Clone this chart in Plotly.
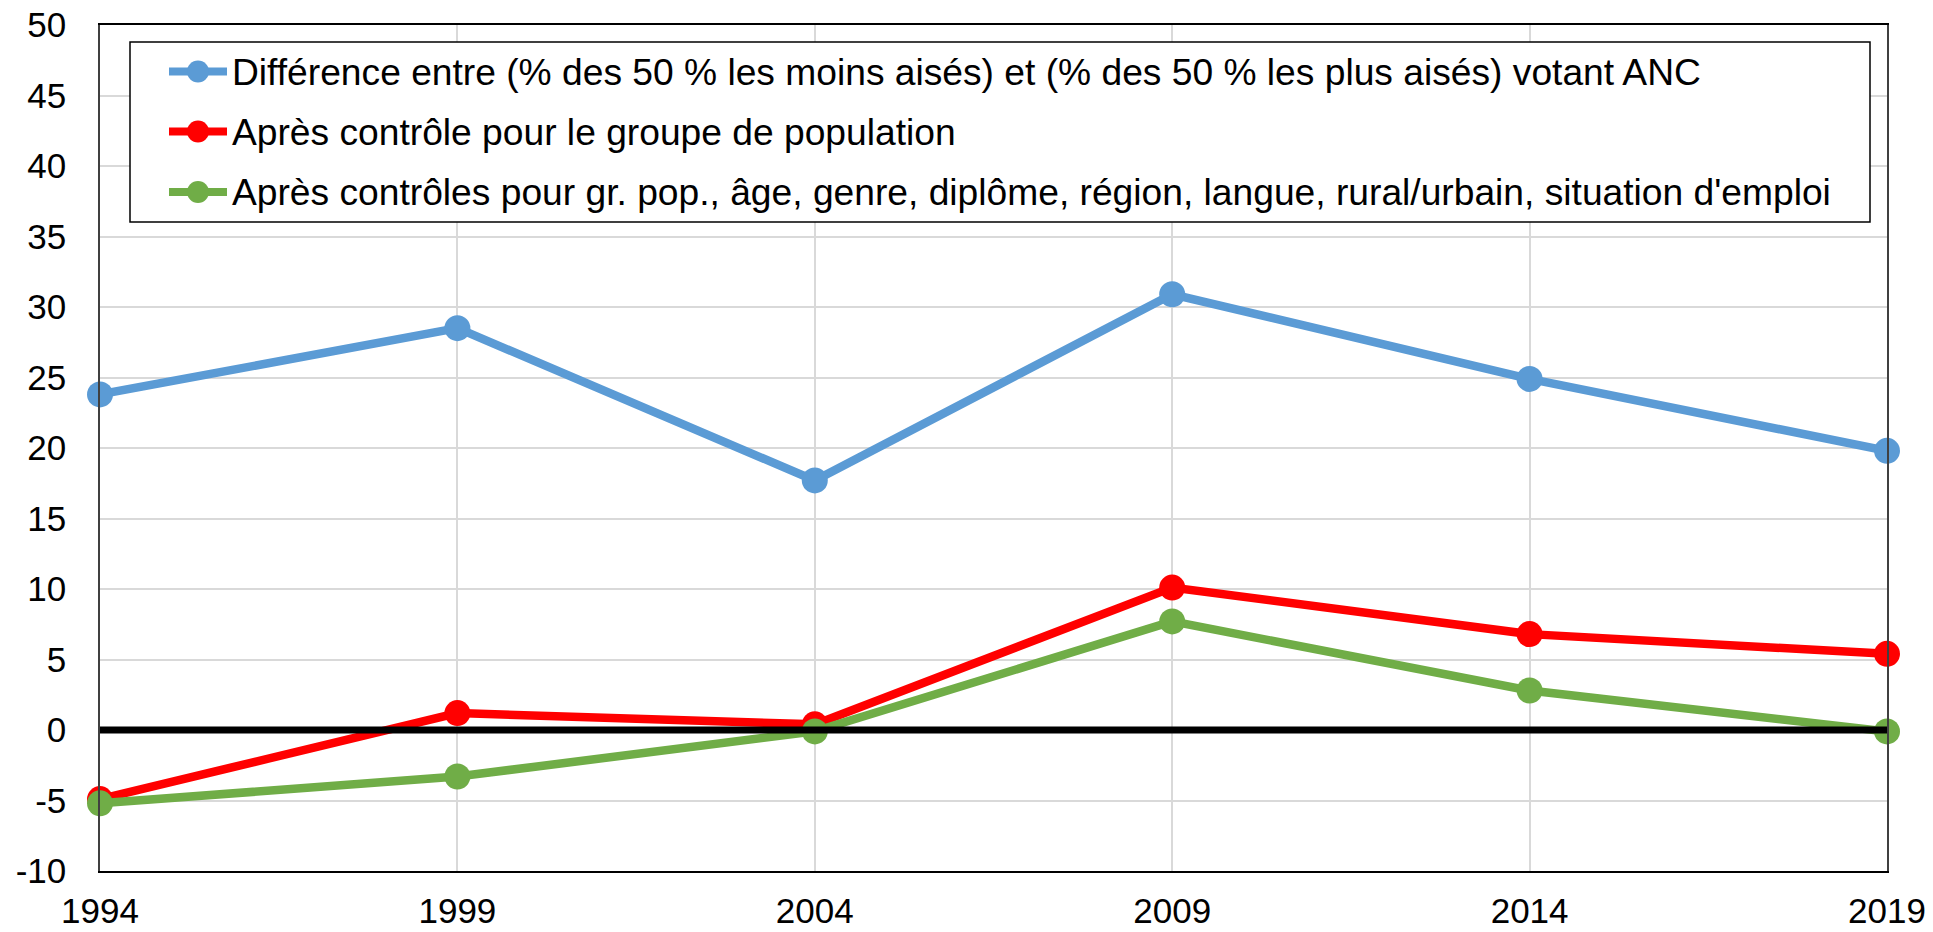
import plotly.graph_objects as go

years = [1994, 1999, 2004, 2009, 2014, 2019]
raw_diff = [23.8, 28.5, 17.7, 30.9, 24.9, 19.8]
ctrl_group = [-4.9, 1.2, 0.4, 10.1, 6.8, 5.4]
ctrl_all = [-5.2, -3.3, -0.1, 7.7, 2.8, -0.1]
zero_ref = [0, 0, 0, 0, 0, 0]

names = [
    "Différence entre (% des 50 % les moins aisés) et (% des 50 % les plus aisés) votant ANC",
    "Après contrôle pour le groupe de population",
    "Après contrôles pour gr. pop., âge, genre, diplôme, région, langue, rural/urbain, situation d'emploi",
]
colors = ["#5B9BD5", "#FF0000", "#70AD47"]
series = [raw_diff, ctrl_group, ctrl_all]
y_ticks = list(range(-10, 55, 5))

FONT = "Liberation Sans, Arial, sans-serif"

W, H = 1933, 932
ML, MR, MT, MB = 100, 46, 25, 61
PW, PH = W - ML - MR, H - MT - MB


def px_x(v):
    return (v - ML) / PW


def px_y(v):
    return (H - MB - v) / PH


fig = go.Figure()
for i, (name, col, vals) in enumerate(zip(names, colors, series)):
    fig.add_trace(go.Scatter(
        x=years, y=vals, name=name, mode="lines+markers",
        line=dict(color=col, width=8.5),
        marker=dict(color=col, size=26),
        cliponaxis=False, showlegend=False,
    ))
fig.add_trace(go.Scatter(
    x=years, y=zero_ref, mode="lines", line=dict(color="black", width=7),
    showlegend=False, hoverinfo="skip", cliponaxis=False,
))

# Custom legend (box, line+marker symbols, labels)
shapes = [dict(
    type="rect", xref="paper", yref="paper",
    x0=px_x(130), x1=px_x(1870), y0=px_y(222), y1=px_y(42),
    line=dict(color="black", width=1.5), fillcolor="white", layer="above",
)]
annotations = []
row_y = [71.5, 131.5, 192]
for name, col, ry in zip(names, colors, row_y):
    shapes.append(dict(
        type="line", xref="paper", yref="paper",
        x0=px_x(169), x1=px_x(227), y0=px_y(ry), y1=px_y(ry),
        line=dict(color=col, width=8), layer="above",
    ))
    shapes.append(dict(
        type="circle", xref="paper", yref="paper",
        xsizemode="pixel", ysizemode="pixel",
        xanchor=px_x(198), yanchor=px_y(ry),
        x0=-11, x1=11, y0=-11, y1=11,
        line=dict(width=0), fillcolor=col, layer="above",
    ))
    annotations.append(dict(
        xref="paper", yref="paper", x=px_x(230), y=px_y(ry),
        xanchor="left", yanchor="middle", text=name, showarrow=False,
        font=dict(family=FONT, size=37.2, color="black"),
    ))

fig.update_layout(
    width=W, height=H,
    margin=dict(l=ML, r=MR, t=MT, b=MB, autoexpand=False),
    paper_bgcolor="white", plot_bgcolor="white",
    font=dict(family=FONT, size=35, color="black"),
    showlegend=False,
    shapes=shapes, annotations=annotations,
    xaxis=dict(
        range=[1994, 2019], tickmode="array", tickvals=years,
        ticktext=[str(y) for y in years],
        showgrid=True, gridcolor="#D9D9D9", gridwidth=1.5,
        showline=True, linecolor="black", linewidth=1.5, mirror=True,
        zeroline=False, ticks="", ticklabelstandoff=8, automargin=False,
    ),
    yaxis=dict(
        range=[-10, 50], tickmode="array", tickvals=y_ticks,
        ticktext=[str(v) for v in y_ticks],
        showgrid=True, gridcolor="#D9D9D9", gridwidth=1.5,
        showline=True, linecolor="#404040", linewidth=1.5, mirror=True,
        zeroline=False, ticks="", ticklabelstandoff=25, automargin=False,
    ),
)

fig.write_html(
    "out.html",
    config={"displayModeBar": False},
    post_script="document.body.style.margin='0';document.body.style.overflow='hidden';",
)
